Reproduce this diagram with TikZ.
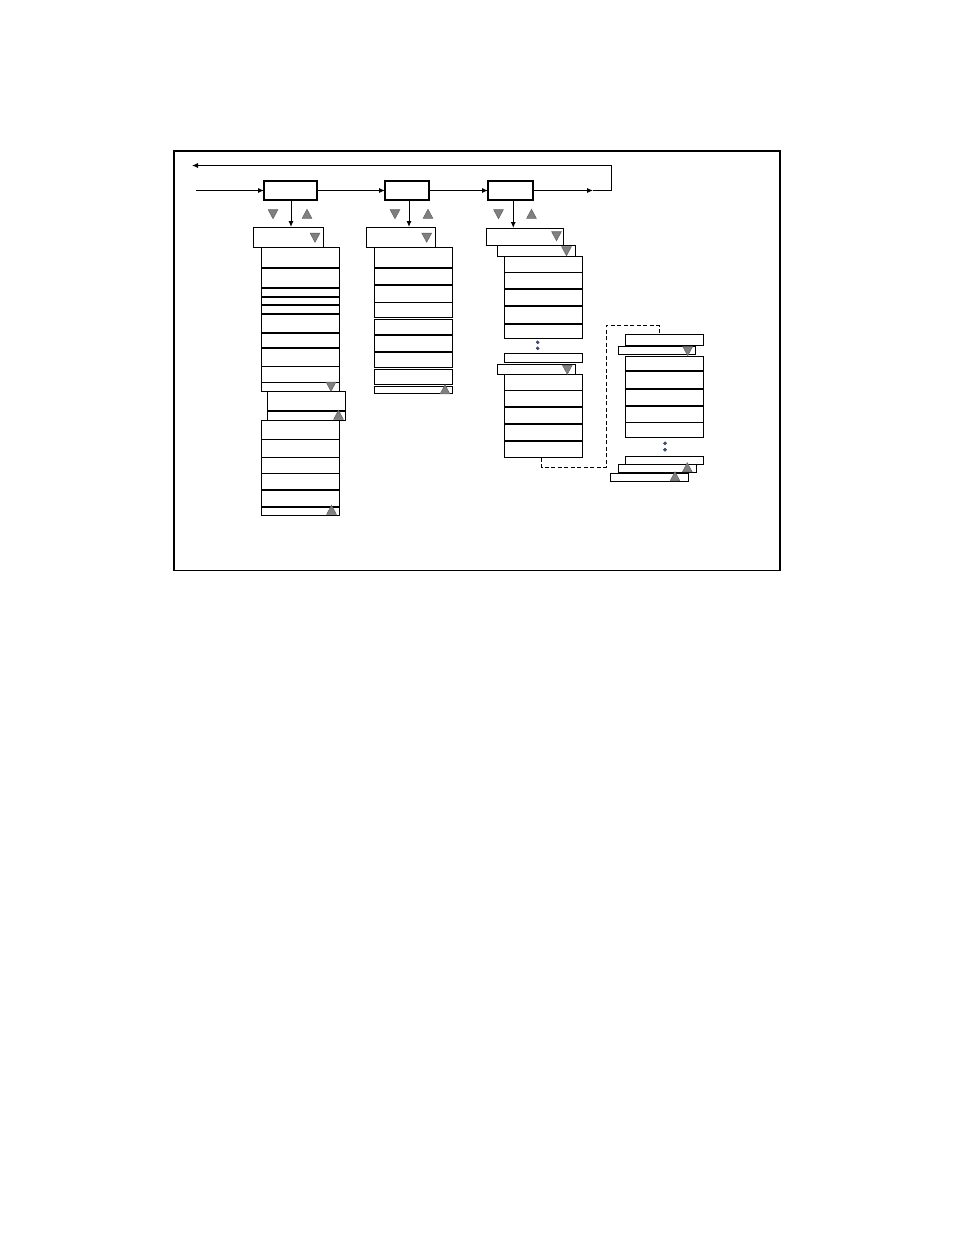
\documentclass[tikz,border=0pt]{standalone}
\usepackage{tikz}
\usetikzlibrary{arrows.meta,fit}
\definecolor{dotblue}{RGB}{60,80,150}
\newcommand{\tridn}[2]{\filldraw[tri] (#1-4.8,#2-4.3) -- (#1+4.8,#2-4.3) -- (#1,#2+4.7) -- cycle;}
\newcommand{\triup}[2]{\filldraw[tri] (#1-4.8,#2+4.3) -- (#1+4.8,#2+4.3) -- (#1,#2-4.7) -- cycle;}

\begin{document}
\begin{tikzpicture}[x=1pt,y=-1pt,
  cell/.style={draw=black, line width=1pt, inner sep=0pt, outer sep=0pt, fill=white},
  head/.style={draw=black, line width=2pt, inner sep=0pt, outer sep=0pt},
  septhick/.style={line width=2pt},
  septhin/.style={line width=1pt},
  link/.style={line width=1pt, -{Latex[length=6pt,width=5pt]}},
  tri/.style={fill=gray, draw=black!60, line width=0.6pt},
  dot/.style={circle, fill=dotblue, draw=dotblue!60!black, line width=0.3pt, inner sep=0pt, minimum size=3.2pt},
  back/.style={draw=black, line width=1pt, dash pattern=on 4pt off 2.5pt}]

\useasboundingbox (0,0) rectangle (954,1235);
\node[draw=black, line width=1.6pt, inner sep=0pt, fit={(174,151) (780,570.5)}] (frame) {};

% main row
\node[head, fit={(264,181) (317,200)}] (mA) {};
\node[head, fit={(385,181) (429,200)}] (mB) {};
\node[head, fit={(488,181) (532.5,200)}] (mC) {};
\coordinate (inp) at (196,190.5);
\coordinate (outp) at (593,190.5);
\coordinate (turn) at (611.5,190.5);
\coordinate (ret) at (192,165.5);

\draw[link] (inp) -- (mA.west);
\draw[link] (mA) -- (mB);
\draw[link] (mB) -- (mC);
\draw[link] (mC.east) -- (outp);
\draw[line width=1pt] (outp) -- (turn) -- (turn |- ret);
\draw[link] (turn |- ret) -- (ret);

% column A
\node[cell, fit={(253,227) (323,247)}] (aT) {};
\node[cell, fit={(261,247) (339,267)}] (aS1) {};
\node[cell, fit={(261,268) (339,391)}] (aS2) {};
\foreach \y in {288,297,305,314,333,348}
  \draw[septhick] (aS2.west |- 0,\y) -- (aS2.east |- 0,\y);
\foreach \y in {366,382}
  \draw[septhin] (aS2.west |- 0,\y) -- (aS2.east |- 0,\y);
\node[cell, fit={(267,391.5) (345.5,420)}] (aB) {};
\draw[septhick] (aB.west |- 0,411) -- (aB.east |- 0,411);
\node[cell, fit={(261,420.5) (339,515)}] (aS3) {};
\foreach \y in {439,457,473}
  \draw[septhin] (aS3.west |- 0,\y) -- (aS3.east |- 0,\y);
\foreach \y in {490,507}
  \draw[septhick] (aS3.west |- 0,\y) -- (aS3.east |- 0,\y);
\draw[link] ([xshift=0.5pt]mA.south) -- ([xshift=0.5pt]mA.south |- aT.north);

% column B
\node[cell, fit={(366,227) (435.5,247)}] (bT) {};
\node[cell, fit={(374,247) (452.5,317)}] (bS1) {};
\foreach \y in {268,285}
  \draw[septhick] (bS1.west |- 0,\y) -- (bS1.east |- 0,\y);
\draw[septhin] (bS1.west |- 0,302) -- (bS1.east |- 0,302);
\node[cell, fit={(374,319.5) (452.5,367.5)}] (bS2) {};
\foreach \y in {335,352}
  \draw[septhick] (bS2.west |- 0,\y) -- (bS2.east |- 0,\y);
\node[cell, fit={(374,369.5) (452.5,384.5)}] (bS3) {};
\node[cell, fit={(374,386.5) (452.5,393.5)}] (bS4) {};
\draw[link] ([xshift=2pt]mB.south) -- ([xshift=2pt]mB.south |- bT.north);

% column C
\node[cell, fit={(486,228) (563.5,245)}] (cT) {};
\node[cell, fit={(497.5,245) (575.5,256)}] (cT2) {};
\node[cell, fit={(504.5,256.5) (582,338.5)}] (cS1) {};
\draw[septhin] (cS1.west |- 0,272.5) -- (cS1.east |- 0,272.5);
\foreach \y in {288.5,306,323.5}
  \draw[septhick] (cS1.west |- 0,\y) -- (cS1.east |- 0,\y);
\node[dot] (cd1) at (537.7,342.3) {};
\node[dot] (cd2) at (537.7,348.3) {};
\node[cell, fit={(504.5,353.5) (582,362.5)}] (cM1) {};
\node[cell, fit={(497.5,364.5) (575.5,374.5)}] (cM2) {};
\node[cell, fit={(504.5,374.5) (582,457.5)}] (cS2) {};
\draw[septhin] (cS2.west |- 0,390) -- (cS2.east |- 0,390);
\foreach \y in {406.7,424,440.7}
  \draw[septhick] (cS2.west |- 0,\y) -- (cS2.east |- 0,\y);
\draw[link] ([xshift=3pt]mC.south) -- ([xshift=3pt]mC.south |- cT.north);

% column D
\node[cell, fit={(625.5,334) (703.5,345.5)}] (dT) {};
\node[cell, fit={(618.5,346) (695.5,354)}] (dT2) {};
\node[cell, fit={(625.5,356.5) (703.5,437.5)}] (dS1) {};
\foreach \y in {371.3,388.7,405.7}
  \draw[septhick] (dS1.west |- 0,\y) -- (dS1.east |- 0,\y);
\draw[septhin] (dS1.west |- 0,422.3) -- (dS1.east |- 0,422.3);
\node[dot] (dd1) at (665,443.3) {};
\node[dot] (dd2) at (665,449.7) {};
\node[cell, fit={(625.5,456.5) (703.5,464)}] (dB1) {};
\node[cell, fit={(618.5,464) (696.5,472.5)}] (dB2) {};
\node[cell, fit={(610.5,473) (688.5,481.5)}] (dB3) {};

\draw[back] ([xshift=-1.5pt]cS2.south) -- ++(0,10) -| (606,325.5) -| ([xshift=-5.5pt]dT.north);

% arrows up/down
\tridn{273}{214}  \triup{307}{214}
\tridn{395}{214}  \triup{428}{214}
\tridn{498.5}{214} \triup{531.5}{214}
\tridn{315}{237.5}
\tridn{331}{386.5}
\triup{338.5}{415}
\triup{331.5}{510}
\tridn{426.7}{237.5}
\triup{445}{389.5}
\tridn{556.5}{236}
\tridn{566.5}{251}
\tridn{567.3}{369.5}
\tridn{687.7}{351}
\triup{687.3}{467.5}
\triup{675}{476.5}

\end{tikzpicture}
\end{document}
